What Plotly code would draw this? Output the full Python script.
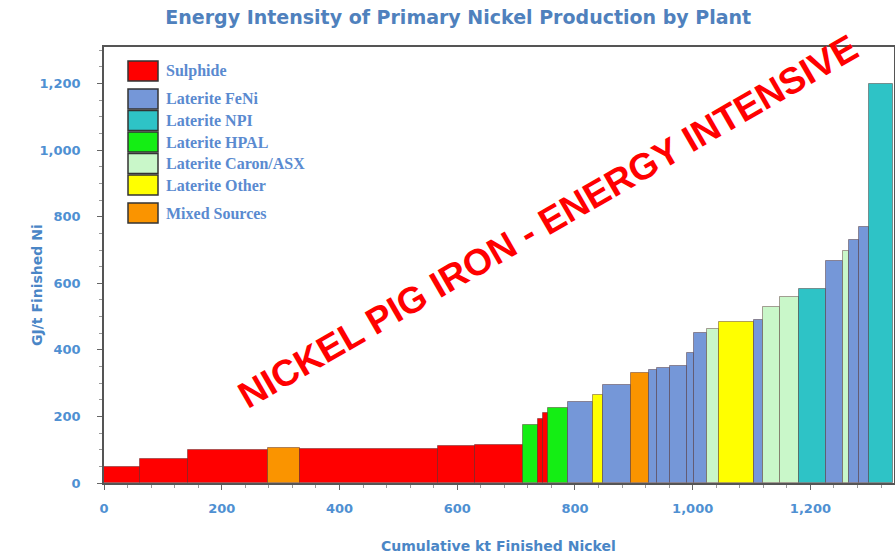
import numpy as np
import plotly.graph_objects as go

# plant capacity (kt Ni) in cost-curve order, and energy intensity (GJ/t Ni)
capacity_kt = [61, 82, 135, 55, 234, 63, 81, 26, 8, 9, 35, 41, 17, 49, 29, 14, 22, 29, 12, 22,
               20, 61, 14, 29, 32, 46, 29, 10, 17, 18, 40]
intensity = [48, 72, 99, 105, 102, 112, 114, 174, 192, 210, 225, 243, 264, 295, 330, 340, 345, 352,
             390, 450, 462, 484, 490, 529, 559, 583, 668, 698, 731, 770, 1200]
plant_type = ["Sulphide", "Sulphide", "Sulphide", "Mixed Sources", "Sulphide", "Sulphide", "Sulphide",
              "Laterite HPAL", "Sulphide", "Sulphide", "Laterite HPAL", "Laterite FeNi", "Laterite Other",
              "Laterite FeNi", "Mixed Sources", "Laterite FeNi", "Laterite FeNi", "Laterite FeNi",
              "Laterite FeNi", "Laterite FeNi", "Laterite Caron/ASX", "Laterite Other", "Laterite FeNi",
              "Laterite Caron/ASX", "Laterite Caron/ASX", "Laterite NPI", "Laterite FeNi",
              "Laterite Caron/ASX", "Laterite FeNi", "Laterite FeNi", "Laterite NPI"]

legend_names = ["Sulphide", "Laterite FeNi", "Laterite NPI", "Laterite HPAL",
                "Laterite Caron/ASX", "Laterite Other", "Mixed Sources"]
legend_group = [0, 1, 1, 1, 1, 1, 2]
colors = {
    "Sulphide": "#FF0000",
    "Laterite FeNi": "#7597D8",
    "Laterite NPI": "#2EC3C6",
    "Laterite HPAL": "#14EE14",
    "Laterite Caron/ASX": "#C9F7C9",
    "Laterite Other": "#FFFF00",
    "Mixed Sources": "#FA9400",
}

BLUE = "#4A86C6"
W, H = 895, 557
L, R, T, B = 104, 1, 47, 74
plot_h = H - T - B
plot_w = W - L - R

widths = np.array(capacity_kt, dtype=float)
right = np.cumsum(widths)
mids = right - widths / 2

fig = go.Figure(
    go.Bar(
        x=mids,
        y=intensity,
        width=widths,
        marker=dict(color=[colors[t] for t in plant_type],
                    line=dict(color="rgba(60,20,20,0.4)", width=1)),
        showlegend=False,
        hoverinfo="x+y",
    )
)

# legend drawn as boxes so the swatches are the size of the original
for i, (name, g) in enumerate(zip(legend_names, legend_group)):
    top_px = 14 + i * 21.5 + g * 6.5
    y0 = 1 - (top_px + 20) / plot_h
    y1 = 1 - top_px / plot_h
    fig.add_shape(type="rect", xref="paper", yref="paper",
                  x0=24 / plot_w, x1=54 / plot_w, y0=y0, y1=y1,
                  fillcolor=colors[name], line=dict(color="#333333", width=1.5))
    fig.add_annotation(xref="paper", yref="paper", x=60 / plot_w, y=(y0 + y1) / 2,
                       text=f"<b>{name}</b>", showarrow=False, xanchor="left", yanchor="middle",
                       font=dict(family="Liberation Serif", size=16, color="#5A8AD0"))

fig.add_annotation(
    xref="paper", yref="paper", x=0.562, y=0.60,
    text="<b>NICKEL PIG IRON - ENERGY INTENSIVE</b>",
    showarrow=False, textangle=-30,
    font=dict(family="Liberation Sans", size=37, color="#FF0000"),
)

title_font = dict(family="DejaVu Sans", size=14, color=BLUE)
fig.add_annotation(xref="paper", yref="paper", x=(37 - L) / plot_w, y=(H - B - 285) / plot_h,
                   text="<b>GJ/t Finished Ni</b>", showarrow=False, textangle=-90,
                   xanchor="center", yanchor="middle", font=title_font)
fig.add_annotation(xref="paper", yref="paper", x=(498 - L) / plot_w, y=(H - B - 546) / plot_h,
                   text="<b>Cumulative kt Finished Nickel</b>", showarrow=False,
                   xanchor="center", yanchor="middle", font=title_font)

tick_font = dict(family="DejaVu Sans", size=13, color="#4F90D2", weight="bold")
fig.update_layout(
    width=W, height=H,
    margin=dict(l=L, r=R, t=T, b=B, autoexpand=False),
    paper_bgcolor="white", plot_bgcolor="white",
    title=dict(text="<b>Energy Intensity of Primary Nickel Production by Plant</b>",
               x=0.512, xanchor="center", y=0.968, yanchor="middle",
               font=dict(family="DejaVu Sans", size=19, color="#4F81BD")),
    bargap=0,
    barmode="overlay",
    separators=".,",
    xaxis=dict(
        range=[0, 1342], tickvals=[0, 200, 400, 600, 800, 1000, 1200], tickformat=",d",
        showgrid=False, zeroline=False, showline=True, linecolor="#555", linewidth=1.5,
        mirror=True, ticks="outside", ticklen=5, tickcolor="#666", automargin=False,
        minor=dict(dtick=40, ticks="outside", ticklen=3, tickcolor="#999"),
        tickfont=tick_font, ticklabelstandoff=8,
    ),
    yaxis=dict(
        range=[0, 1310], tickvals=[0, 200, 400, 600, 800, 1000, 1200], tickformat=",d",
        showgrid=False, zeroline=False, showline=True, linecolor="#555", linewidth=1.5,
        mirror=True, ticks="outside", ticklen=5, tickcolor="#666", automargin=False,
        minor=dict(dtick=50, ticks="outside", ticklen=3, tickcolor="#999"),
        tickfont=tick_font, ticklabelstandoff=14,
    ),
)

# drop the default page margin so the figure sits at the window's corner
fig.write_html("out.html", config={"displayModeBar": False},
               post_script="document.body.style.margin='0';document.body.style.overflow='hidden';")
